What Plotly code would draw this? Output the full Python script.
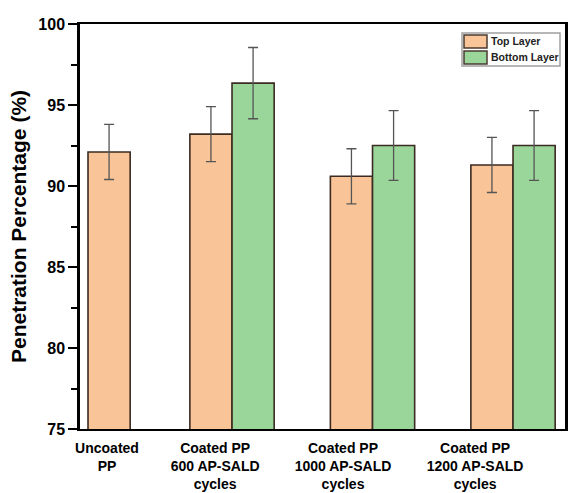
import plotly.graph_objects as go

# ---- data ----
categories = ["Uncoated<br>PP", "Coated PP<br>600 AP-SALD<br>cycles",
              "Coated PP<br>1000 AP-SALD<br>cycles", "Coated PP<br>1200 AP-SALD<br>cycles"]
series_names = ["Top Layer", "Bottom Layer"]
top_layer = [92.1, 93.2, 90.6, 91.3]
top_err = [1.7, 1.7, 1.7, 1.7]
bottom_layer = [None, 96.35, 92.5, 92.5]
bottom_err = [None, 2.2, 2.15, 2.15]
y_ticks = [75, 80, 85, 90, 95, 100]

# ---- layout helpers (positions / styles) ----
group_pos = [0, 1, 2, 3]
half = 0.15
top_x = [0.125] + [g - half for g in group_pos[1:]]
bot_x = [None] + [g + half for g in group_pos[1:]]
label_x = [0.11, 0.88, 1.79, 2.73]
colors = ["#F9C497", "#9AD59A"]

FONT = "Arial, Liberation Sans, sans-serif"
outline = dict(color="#3b2b22", width=1.6)

W, H = 568, 493
L, R, T, B = 80, 3, 24, 64
PW, PH = W - L - R, H - T - B


def px(x):
    return (x - L) / PW


def py(y):
    return (H - B - y) / PH


fig = go.Figure()
fig.add_trace(go.Bar(
    x=top_x, y=top_layer, width=0.3, name=series_names[0], showlegend=False,
    marker=dict(color=colors[0], line=outline),
    error_y=dict(type="data", array=top_err, color="#555555", thickness=1.3, width=5),
))
bx = [v for v in bot_x if v is not None]
by = [v for v in bottom_layer if v is not None]
be = [v for v in bottom_err if v is not None]
fig.add_trace(go.Bar(
    x=bx, y=by, width=0.3, name=series_names[1], showlegend=False,
    marker=dict(color=colors[1], line=outline),
    error_y=dict(type="data", array=be, color="#555555", thickness=1.3, width=5),
))

# custom legend box (wide swatches like the original)
shapes = [dict(type="rect", xref="paper", yref="paper",
               x0=px(462), x1=px(560), y0=py(66), y1=py(33),
               line=dict(color="#a0a0a0", width=1.5), fillcolor="white", layer="above")]
annotations = []
for i, (nm, col) in enumerate(zip(series_names, colors)):
    y0 = 35 + i * 16
    shapes.append(dict(type="rect", xref="paper", yref="paper",
                       x0=px(464), x1=px(487), y0=py(y0 + 13), y1=py(y0),
                       line=dict(color="#4a3a30", width=1.5), fillcolor=col, layer="above"))
    annotations.append(dict(xref="paper", yref="paper", x=px(489), y=py(y0 + 6.5),
                            xanchor="left", yanchor="middle", showarrow=False,
                            text="<b>" + nm + "</b>",
                            font=dict(size=10.5, family=FONT, color="#222222")))

fig.update_layout(
    width=W, height=H,
    margin=dict(l=L, r=R, t=T, b=B),
    plot_bgcolor="white", paper_bgcolor="white",
    barmode="overlay",
    font=dict(family=FONT, color="black"),
    showlegend=False,
    shapes=shapes,
    annotations=annotations,
)
fig.update_xaxes(
    range=[-0.082, 3.37],
    tickvals=label_x,
    ticktext=["<b>" + c + "</b>" for c in categories],
    tickfont=dict(size=14, family=FONT),
    ticks="", showgrid=False, zeroline=False, automargin=False,
    ticklabelstandoff=5,
    showline=True, linecolor="black", linewidth=2, mirror=True,
)
fig.update_yaxes(
    range=[75, 100],
    tickvals=y_ticks,
    ticktext=["<b>%d</b>" % v for v in y_ticks],
    tickfont=dict(size=16, family=FONT),
    ticks="outside", ticklen=9, tickwidth=2, tickcolor="black",
    minor=dict(dtick=2.5, ticks="outside", ticklen=6, tickwidth=2, tickcolor="black"),
    showgrid=False, zeroline=False, automargin=False,
    ticklabelstandoff=0,
    showline=True, linecolor="black", linewidth=2.5, mirror=True,
    title=dict(text="<b>Penetration Percentage (%)</b>", font=dict(size=21, family=FONT), standoff=6),
)

fig.write_html("out.html", config={"displayModeBar": False},
               post_script="document.body.style.margin='0';document.body.style.overflow='hidden';")
